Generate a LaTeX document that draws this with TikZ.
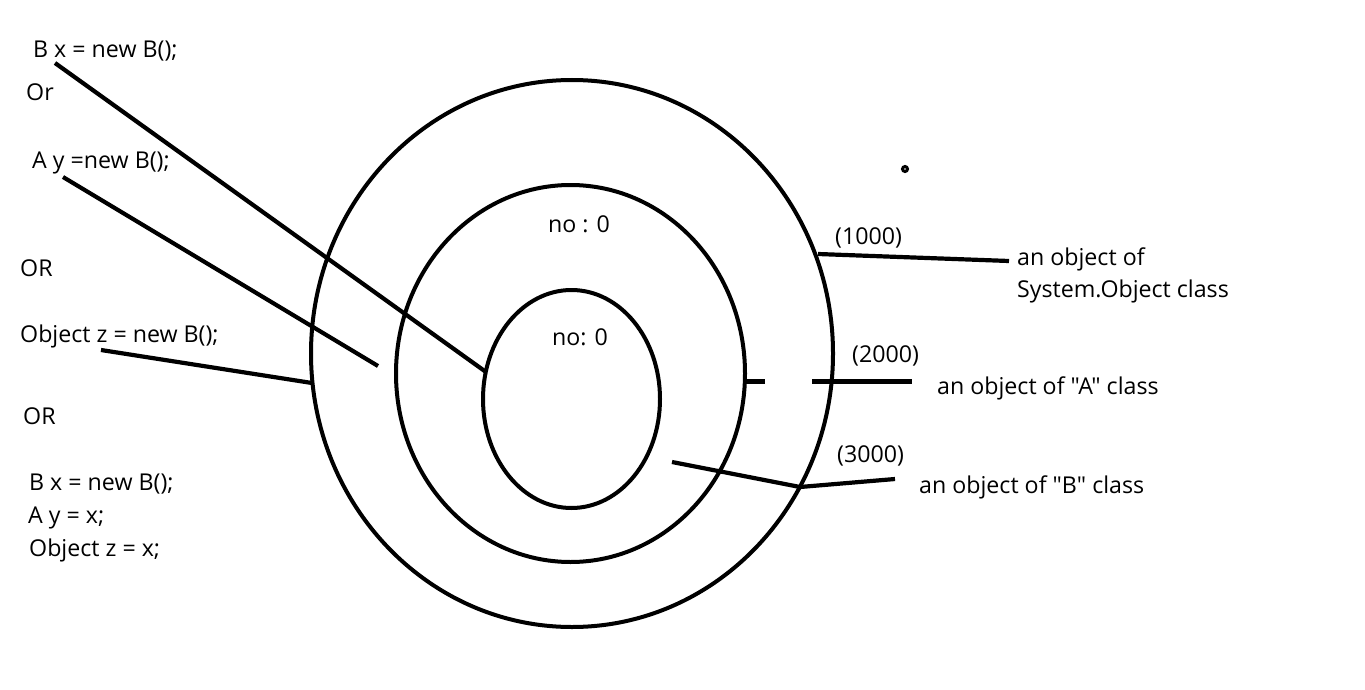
\documentclass[tikz,border=0pt]{standalone}
\usepackage{fontspec}
\setmainfont{Open Sans}[Ligatures=TeXOff]
\usetikzlibrary{shapes.geometric}
\begin{document}
\begin{tikzpicture}[x=1pt,y=-1pt,
  ring/.style={draw,ellipse,line width=4pt,inner sep=0pt},
  wire/.style={line width=4.2pt},
  txt/.style={anchor=base west,inner sep=0pt,font=\fontsize{23.2}{27}\selectfont}]
\useasboundingbox[fill=white] (0,0) rectangle (1365,690);
% rings
\node[ring,minimum width=522pt,minimum height=547pt] (outer) at (572,353.5) {};
\node[ring,minimum width=349pt,minimum height=377pt] (middle) at (570.5,373.5) {};
\node[ring,minimum width=177pt,minimum height=218pt] (inner) at (571.5,399) {};
% dot
\node[circle,draw,line width=3pt,fill=white,inner sep=0pt,minimum size=5pt] (dot) at (905,169) {};
% left texts
\node[txt] (t1) at (33,58) {B x = new B();};
\node[txt] (t2) at (26,101) {Or};
\node[txt] (t3) at (32,168) {A y =new B();};
\node[txt] (t4) at (20,276) {OR};
\node[txt] (t5) at (20,342) {Object z = new B();};
\node[txt] (t6) at (23,424) {OR};
\node[txt] (t7) at (29,490) {B x = new B();};
\node[txt] (t8) at (28,523) {A y = x;};
\node[txt] (t9) at (29,556) {Object z = x;};
% inner texts
\node[txt] (n1) at (548,232) {no : 0};
\node[txt] (n2) at (552,345) {no: 0};
% right texts
\node[txt] (a1) at (835,244) {(1000)};
\node[txt] (a2) at (1017,265) {an object of};
\node[txt] (a3) at (1017,297) {System.Object class};
\node[txt] (b1) at (852,362) {(2000)};
\node[txt] (b2) at (937,394) {an object of "A" class};
\node[txt] (c1) at (837,462) {(3000)};
\node[txt] (c2) at (919,493) {an object of "B" class};
% connector end points
\coordinate (p1s) at (55,63);  \coordinate (p1e) at (486,372);
\coordinate (p2s) at (63,177); \coordinate (p2e) at (378,366);
\coordinate (p3s) at (101,350); \coordinate (p3e) at (312,383);
\coordinate (q1s) at (818,254); \coordinate (q1e) at (1009,261);
\coordinate (q2a) at (747,381.5); \coordinate (q2b) at (765,381.5);
\coordinate (q2s) at (812,381.5); \coordinate (q2e) at (912,381.5);
\coordinate (q3s) at (672,462); \coordinate (q3m) at (800,487); \coordinate (q3e) at (895,479);
% connectors
\draw[wire] (p1s) -- (p1e);
\draw[wire] (p2s) -- (p2e);
\draw[wire] (p3s) -- (p3e);
\draw[wire] (q1s) -- (q1e);
\draw[wire] (q2a) -- (q2b);
\draw[wire] (q2s) -- (q2e);
\draw[wire,line join=round] (q3s) -- (q3m) -- (q3e);
\end{tikzpicture}
\end{document}
